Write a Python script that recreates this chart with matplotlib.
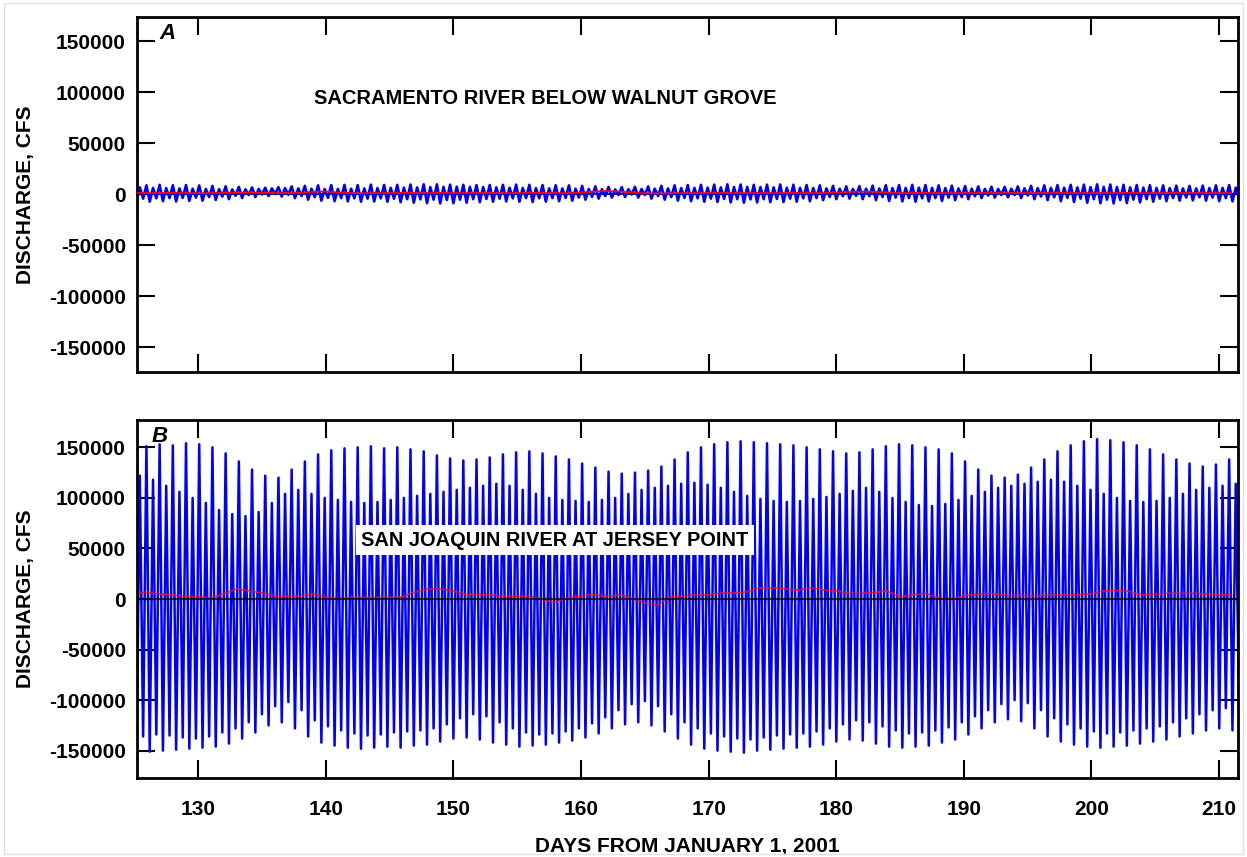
import numpy as np
import matplotlib
matplotlib.use("Agg")
import matplotlib.pyplot as plt
from matplotlib.patches import Rectangle

plt.rcParams['font.family'] = ['Liberation Sans', 'DejaVu Sans']
plt.rcParams['font.weight'] = 'bold'
plt.rcParams['axes.unicode_minus'] = False

# tidal cycle timing (days from Jan 1, 2001)
first_high = 124.9
tidal_period = 0.5175

# --- San Joaquin River at Jersey Point, thousands of cfs, one entry per tidal day
sj_higher_high = [146, 151, 153, 152, 154, 153,
                  150, 144, 136,
                  128, 122, 120,
                  128, 136, 143,
                  147, 149, 150, 151, 149, 150, 148, 146,
                  142, 139, 137, 138,
                  140, 143, 145, 146, 144, 141, 138,
                  134, 130, 126, 124, 125, 127, 131,
                  138, 145, 150,
                  153, 155, 156, 155, 154, 153, 152, 150,
                  148, 146, 144, 145,
                  148, 151, 153, 152, 150, 148, 144,
                  136, 128, 122, 120, 123, 130,
                  138, 146, 152, 156, 158, 157, 155, 152, 148,
                  143, 138, 134, 131, 133, 138]
sj_lower_high = [122, 118, 112, 106, 100, 95,
                 88, 84, 82,
                 86, 95, 104,
                 108, 104, 100,
                 98, 96, 95, 96, 98, 100, 102, 104,
                 106, 108, 110, 112,
                 114, 112, 108, 104, 100, 98, 97,
                 96, 98, 100, 104, 108, 110, 112,
                 114, 115, 113,
                 110, 106, 102, 99, 97, 96, 97, 99,
                 101, 104, 107, 110,
                 106, 100, 96, 93, 92, 94, 98,
                 102, 106, 110, 112, 114, 116,
                 118, 116, 112, 108, 104, 100, 97, 96, 97,
                 100, 104, 108, 110, 112, 114]
sj_lower_low = [-148, -151, -150, -149, -148, -147,
                -146, -143, -138,
                -132, -125, -122,
                -128, -136, -142,
                -145, -147, -148, -147, -146, -147, -145, -144,
                -141, -138, -137, -139,
                -142, -144, -146, -145, -144, -142, -140,
                -137, -133, -128, -124, -122, -125, -131,
                -138, -144, -148,
                -150, -151, -152, -150, -149, -148, -147, -146,
                -144, -141, -139, -140,
                -143, -146, -147, -146, -145, -142, -139,
                -134, -128, -122, -119, -121, -128,
                -136, -141, -144, -146, -147, -146, -145, -143, -141,
                -139, -136, -133, -130, -128, -130]
sj_higher_low = [-136, -134, -135, -137, -138, -136,
                 -132, -128, -122,
                 -114, -106, -102,
                 -110, -120, -126,
                 -130, -133, -135, -134, -132, -131, -130, -128,
                 -124, -118, -114, -116,
                 -122, -128, -132, -134, -133, -131, -128,
                 -123, -117, -110, -104, -101, -106, -114,
                 -122, -128, -133,
                 -136, -138, -139, -137, -135, -134, -133, -131,
                 -128, -124, -120, -122,
                 -126, -130, -133, -132, -130, -127, -122,
                 -116, -110, -104, -100, -103, -110,
                 -118, -124, -128, -131, -133, -132, -130, -128, -126,
                 -122, -118, -114, -110, -108, -112]

# --- Sacramento River below Walnut Grove, thousands of cfs
sac_higher_high = [8.8, 8.5, 9.0, 8.6, 8.8, 8.4,
                   8.0, 7.5, 7.0,
                   6.5, 6.2, 6.8,
                   7.5, 8.0, 8.5,
                   8.8, 9.0, 8.7, 9.2, 8.9, 9.0, 9.3, 9.5,
                   9.5, 9.2, 9.0, 8.8,
                   8.8, 9.0, 9.2, 9.0, 8.8, 8.6, 8.5,
                   8.0, 7.5, 7.0, 6.8, 7.0, 7.5, 8.0,
                   8.5, 8.8, 9.0,
                   9.2, 9.5, 9.3, 9.0, 9.2, 9.4, 9.1, 8.8,
                   8.5, 8.0, 7.5, 7.8,
                   8.2, 8.6, 8.8, 9.0, 8.8, 8.5, 8.2,
                   7.8, 7.5, 7.2, 7.0, 7.5, 8.0,
                   8.5, 8.8, 9.0, 9.2, 9.5, 9.3, 9.0, 8.8, 8.6,
                   8.5, 8.2, 8.0, 8.3, 8.5, 8.7]
sac_lower_high = [6.5, 6.0, 5.8, 5.5, 5.2, 5.0,
                  4.8, 4.5, 4.6,
                  5.0, 5.5, 5.8,
                  5.5, 5.2, 5.0,
                  5.0, 5.2, 5.5, 5.8, 6.0, 6.2, 6.5, 6.8,
                  7.0, 7.2, 7.0, 6.8,
                  6.5, 6.2, 6.0, 5.8, 5.5, 5.5, 5.2,
                  5.0, 4.8, 4.5, 4.8, 5.0, 5.2, 5.5,
                  5.8, 6.0, 6.2,
                  6.5, 6.8, 7.0, 6.8, 6.5, 6.2, 6.0, 5.8,
                  5.5, 5.2, 5.0, 5.2,
                  5.5, 5.8, 6.0, 6.2, 6.0, 5.8, 5.5,
                  5.2, 5.0, 5.0, 5.2, 5.5, 5.8,
                  6.0, 6.2, 6.5, 6.8, 7.0, 6.8, 6.5, 6.2, 6.0,
                  5.8, 5.5, 5.5, 5.8, 6.0, 6.2]
sac_lower_low = [-7.2, -7.5, -7.0, -7.3, -6.8, -6.5,
                 -5.8, -5.0, -4.0,
                 -3.0, -2.0, -2.5,
                 -4.0, -5.5, -6.5,
                 -7.0, -7.2, -7.5, -7.3, -7.6, -8.0, -8.5, -9.0,
                 -9.2, -9.0, -8.5, -8.0,
                 -7.5, -7.2, -7.5, -7.8, -7.5, -7.0, -6.5,
                 -5.5, -4.5, -3.5, -3.0, -3.5, -4.5, -5.5,
                 -6.5, -7.0, -7.5,
                 -7.8, -8.2, -8.5, -8.2, -8.0, -7.8, -7.5, -7.0,
                 -6.0, -5.0, -4.5, -5.0,
                 -6.0, -6.8, -7.2, -7.5, -7.2, -6.8, -6.0,
                 -5.0, -4.0, -3.5, -3.2, -4.0, -5.0,
                 -6.0, -7.0, -7.8, -8.5, -9.0, -9.2, -8.8, -8.2, -7.5,
                 -7.0, -6.5, -6.2, -6.5, -7.0, -7.2]
sac_higher_low = [-4.5, -4.2, -4.0, -3.8, -3.5, -3.0,
                  -2.5, -1.8, -1.0,
                  -0.5, 0.0, -0.8,
                  -2.0, -3.0, -3.8,
                  -4.0, -4.2, -4.5, -4.3, -4.6, -5.0, -5.2, -5.5,
                  -5.8, -5.5, -5.0, -4.8,
                  -4.5, -4.2, -4.0, -4.2, -4.0, -3.8, -3.5,
                  -2.8, -2.0, -1.0, -0.5, -1.0, -2.0, -3.0,
                  -3.8, -4.2, -4.5,
                  -4.8, -5.0, -5.2, -5.0, -4.8, -4.5, -4.2, -4.0,
                  -3.0, -2.2, -1.8, -2.2,
                  -3.0, -3.5, -4.0, -4.2, -4.0, -3.5, -3.0,
                  -2.2, -1.5, -1.0, -1.0, -1.5, -2.5,
                  -3.2, -3.8, -4.5, -5.0, -5.5, -5.8, -5.5, -5.0, -4.5,
                  -4.0, -3.5, -3.2, -3.5, -4.0, -4.2]

# tidally filtered (net) daily discharge, thousands of cfs, days 125-211
net_days = np.arange(125, 212)
sac_net = [1.2, 1.0, 1.0, 1.2, 1.0, 0.8, 1.0, 1.2, 1.5, 1.5,
           1.2, 1.0, 1.0, 1.2, 2.2, 2.5, 1.5, 1.0, 0.8, 1.0,
           1.0, 1.2, 1.0, 1.0, 1.2, 1.0, 1.0, 1.2, 1.0, 1.0,
           1.0, 1.2, 1.0, 1.0, 1.0, 1.5, 2.5, 3.0, 2.5, 1.5,
           0.8, 0.5, 0.8, 1.0, 1.0, 1.0, 1.2, 1.0, 1.0, 1.0,
           1.0, 1.0, 1.2, 1.0, 1.0, 1.5, 2.0, 2.5, 2.0, 1.5,
           1.0, 1.0, 1.2, 1.0, 1.0, 1.0, 1.2, 1.0, 1.0, 1.0,
           1.0, 1.0, 1.0, 1.2, 1.0, 1.0, 1.0, 1.0, 1.2, 1.0,
           1.0, 1.0, 1.2, 1.0, 1.0, 1.0, 1.0]
sj_net = [6.6, 6.6, 5.0, 4.0, 2.6, 2.2, 1.0, 5.0, 9.9, 8.0,
          6.0, 3.0, 2.6, 3.0, 5.0, 2.0, 0.0, 1.6, 1.6, 1.6,
          1.6, 2.0, 7.0, 9.9, 9.9, 8.0, 4.3, 4.3, 4.0, 2.6,
          2.6, 2.6, -1.0, -3.3, 1.0, 3.0, 4.3, 2.5, 4.0, 1.0,
          -4.0, -6.0, 2.0, 3.0, 4.0, 4.0, 6.0, 6.0, 7.0, 11.0,
          11.0, 10.0, 8.6, 11.0, 9.0, 8.0, 5.6, 5.6, 6.5, 8.0,
          2.3, 4.0, 5.6, 1.0, -1.0, 3.3, 4.5, 5.6, 4.0, 3.3,
          3.3, 3.3, 4.0, 4.0, 4.0, 5.0, 8.0, 8.5, 7.5, 4.0,
          4.5, 5.6, 5.6, 5.6, 5.0, 4.0, 4.0]


def tide_trace(hh, lh, ll, hl):
    # order the extremes as high, low, high, low ... through each tidal day
    highs = np.column_stack([hh, lh]).ravel()
    lows = np.column_stack([ll, hl]).ravel()
    q = np.column_stack([highs, lows]).ravel() * 1000.0
    t = first_high + np.arange(len(q)) * tidal_period / 2.0
    return t, q


def style_axes(ax, ylim):
    ax.set_xlim(125.2, 211.5)
    ax.set_ylim(*ylim)
    ax.set_xticks(np.arange(130, 211, 10))
    ax.set_yticks(np.arange(-150000, 150001, 50000))
    ax.tick_params(direction='in', length=13, width=1.5, top=True, right=True,
                   labelsize=15)
    ax.tick_params(axis='y', pad=8)
    ax.tick_params(axis='x', pad=16)
    for sp in ax.spines.values():
        sp.set_linewidth(2.0)
    ax.set_ylabel('DISCHARGE, CFS', fontsize=15, fontweight='bold', labelpad=10)


fig = plt.figure(figsize=(12.47, 8.57), dpi=100)
fig.patches.append(Rectangle((0.003, 0.003), 0.994, 0.994, transform=fig.transFigure,
                             fill=False, edgecolor='#e2e2e2', linewidth=1.0))

ax_a = fig.add_axes([0.1099, 0.5659, 0.8829, 0.4142])
ax_b = fig.add_axes([0.1099, 0.0922, 0.8829, 0.4177])
H = fig.bbox.height

# A: Sacramento River
t, q = tide_trace(sac_higher_high, sac_lower_high, sac_lower_low, sac_higher_low)
ax_a.axhline(0, color='black', lw=1.2, zorder=1)
ax_a.plot(t, q, color='#0000ff', lw=1.9, zorder=2)
ax_a.plot(net_days, np.array(sac_net) * 1000.0, color='#ff0000', lw=1.2, zorder=3)
style_axes(ax_a, (-174500, 173500))
ax_a.tick_params(labelbottom=False)
ax_a.text(0.02, 0.955, 'A', transform=ax_a.transAxes, fontsize=16,
          fontstyle='italic', fontweight='bold', va='center', ha='left')
ax_a.text(545, H - 99, 'SACRAMENTO RIVER BELOW WALNUT GROVE', fontsize=14.5,
          fontweight='bold', ha='center', va='center', transform=None)

# B: San Joaquin River
t, q = tide_trace(sj_higher_high, sj_lower_high, sj_lower_low, sj_higher_low)
ax_b.plot(t, q, color='#0000ff', lw=1.8, zorder=2)
ax_b.plot(net_days, np.array(sj_net) * 1000.0, color='#e8102a', lw=1.2, alpha=0.85, zorder=2.5)
ax_b.axhline(0, color='black', lw=1.6, alpha=0.75, zorder=3)
style_axes(ax_b, (-177000, 177000))
ax_b.text(0.013, 0.955, 'B', transform=ax_b.transAxes, fontsize=16,
          fontstyle='italic', fontweight='bold', va='center', ha='left')
ax_b.set_xlabel('DAYS FROM JANUARY 1, 2001', fontsize=15, fontweight='bold', labelpad=13)
ax_b.text(555, H - 540, 'SAN JOAQUIN RIVER AT JERSEY POINT', fontsize=14.4,
          fontweight='bold', ha='center', va='center', transform=None, zorder=5,
          bbox=dict(facecolor='white', edgecolor='none', pad=4))

fig.savefig('out.png', dpi=100)
